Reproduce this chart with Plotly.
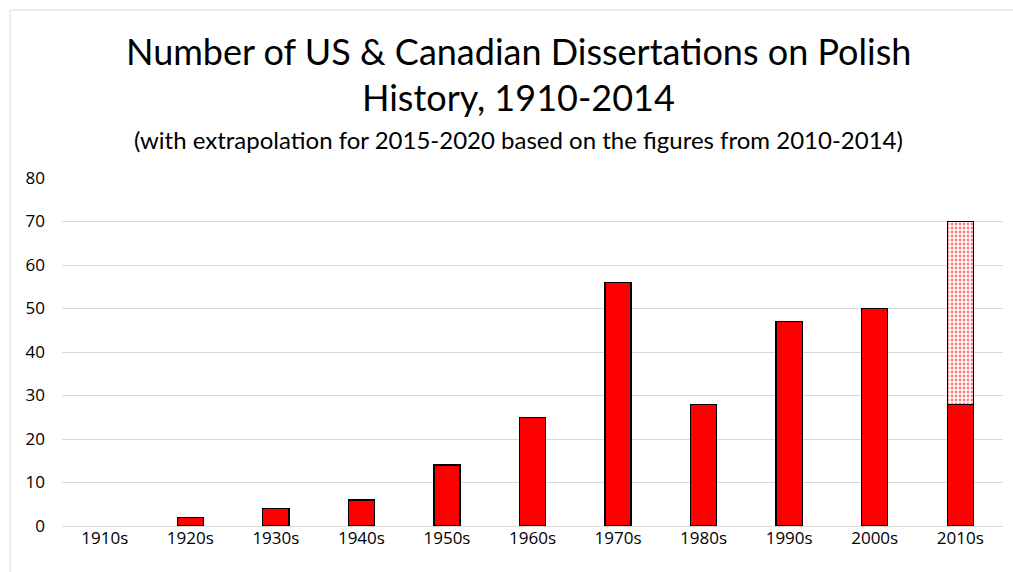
import plotly.graph_objects as go

decades = ["1910s", "1920s", "1930s", "1940s", "1950s", "1960s", "1970s", "1980s", "1990s", "2000s", "2010s"]
actual = [0, 2, 4, 6, 14, 25, 56, 28, 47, 50, 28]
extrapolated = [None, None, None, None, None, None, None, None, None, None, 42]
y_ticks = [0, 10, 20, 30, 40, 50, 60, 70, 80]

W, H = 1013, 572
L, R, T, B = 62, 10, 178, 46
pw, ph = W - L - R, H - T - B

fig = go.Figure()
fig.add_trace(go.Bar(
    x=decades, y=actual, name="Dissertations",
    marker=dict(color="#FF0000",
                line=dict(color="#000000", width=[0 if v == 0 else 1.3 for v in actual])),
))
fig.add_trace(go.Bar(
    x=decades, y=extrapolated, name="Extrapolation",
    marker=dict(color="#FFFFFF", line=dict(color="#000000", width=1.3),
                pattern=dict(shape=".", fgcolor="#FF0000", bgcolor="#FFFFFF", size=4, solidity=0.4)),
))

def px_x(p):
    return (p - L) / pw

def px_y(p):
    return 1 - (p - T) / ph

fig.add_shape(type="rect", xref="paper", yref="paper",
              x0=px_x(10), x1=px_x(1100), y0=px_y(650), y1=px_y(10),
              line=dict(color="#D9D9D9", width=1), fillcolor="rgba(0,0,0,0)", layer="below")

font_title = "Lato, 'Open Sans', sans-serif"
for txt, yy, sz in [("Number of US & Canadian Dissertations on Polish", 51, 36),
                    ("History, 1910-2014", 97, 36),
                    ("(with extrapolation for 2015-2020 based on the figures from 2010-2014)", 139, 24)]:
    fig.add_annotation(text=txt, xref="paper", yref="paper", x=px_x(518), y=px_y(yy),
                       xanchor="center", yanchor="middle", showarrow=False,
                       font=dict(size=sz, color="#000000", family=font_title))

fig.update_layout(
    width=W, height=H,
    margin=dict(l=L, r=R, t=T, b=B),
    barmode="stack", bargap=0.695,
    showlegend=False,
    plot_bgcolor="#FFFFFF", paper_bgcolor="#FFFFFF",
    font=dict(family="'Open Sans', sans-serif", size=14, color="#000000"),
)
fig.update_xaxes(showgrid=False, showline=False, ticks="", tickfont=dict(size=17, family="'Open Sans', sans-serif"))
fig.update_yaxes(range=[0, 80], tickvals=y_ticks, showgrid=True, gridcolor="#D9D9D9", gridwidth=1,
                 zeroline=True, zerolinecolor="#D9D9D9", zerolinewidth=1, ticks="", ticklabelstandoff=16,
                 tickfont=dict(size=17, family="'Open Sans', sans-serif"))

fig.write_html("out.html", config={"displayModeBar": False},
               post_script="document.body.style.margin='0';document.body.style.overflow='hidden';")
